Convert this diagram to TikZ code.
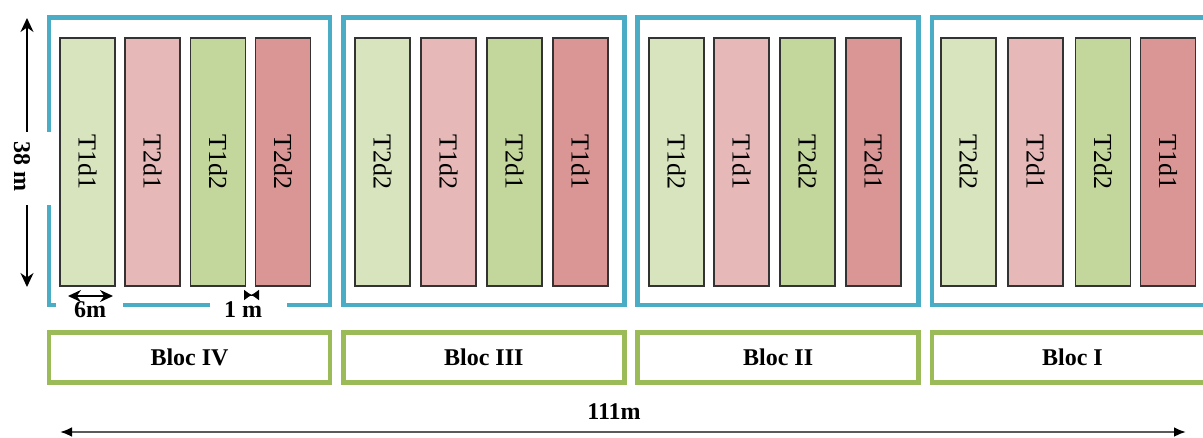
\documentclass[tikz,border=0pt]{standalone}
\usepackage{fontspec}
\setmainfont{Liberation Serif}
\usetikzlibrary{arrows.meta}
\definecolor{blu}{HTML}{4BACC6}
\definecolor{grn}{HTML}{9BBB59}
\definecolor{pa}{HTML}{D7E4BD}
\definecolor{pb}{HTML}{E6B9B8}
\definecolor{pc}{HTML}{C3D69B}
\definecolor{pd}{HTML}{D99694}
\definecolor{edge}{HTML}{333333}
\definecolor{axisgray}{HTML}{5A5A5A}
\begin{document}
\begin{tikzpicture}[x=1pt,y=-1pt,
  blockbox/.style={draw=blu, line width=4.5pt, minimum width=281pt, minimum height=287.5pt, inner sep=0pt},
  blocbar/.style={draw=grn, line width=4.5pt, minimum width=281pt, minimum height=50pt, inner sep=0pt,
    font=\fontsize{24}{24}\selectfont\bfseries},
  plotbox/.style={draw=edge, line width=1.2pt, rotate=-90, minimum width=248pt, minimum height=55pt,
    inner sep=0pt, font=\fontsize{26}{26}\selectfont},
  dimtext/.style={font=\fontsize{24}{24}\selectfont\bfseries, inner sep=0pt},
  dimarrow/.style={line width=1.8pt, {Stealth[length=14pt,width=13pt]}-{Stealth[length=14pt,width=13pt]}},
]
\useasboundingbox (0,0) rectangle (1203,437);
\clip (0,0) rectangle (1203,437);

% blocks (blue frames)
\node[blockbox] (b4) at (189.5,161.25) {};
\node[blockbox] (b3) at (483.8,161.25) {};
\node[blockbox] (b2) at (778.1,161.25) {};
\node[blockbox] (b1) at (1072.4,161.25) {};

% plots: Bloc IV
\node[plotbox, fill=pa] (p41) at (87.5,162) {T1d1};
\node[plotbox, fill=pb] (p42) at (152.5,162) {T2d1};
\node[plotbox, fill=pc] (p43) at (218,162) {T1d2};
\node[plotbox, fill=pd] (p44) at (283,162) {T2d2};
% Bloc III
\node[plotbox, fill=pa] (p31) at (382.5,162) {T2d2};
\node[plotbox, fill=pb] (p32) at (448.5,162) {T1d2};
\node[plotbox, fill=pc] (p33) at (514.5,162) {T2d1};
\node[plotbox, fill=pd] (p34) at (580.5,162) {T1d1};
% Bloc II
\node[plotbox, fill=pa] (p21) at (676.5,162) {T1d2};
\node[plotbox, fill=pb] (p22) at (741.5,162) {T1d1};
\node[plotbox, fill=pc] (p23) at (807.5,162) {T2d2};
\node[plotbox, fill=pd] (p24) at (873.5,162) {T2d1};
% Bloc I
\node[plotbox, fill=pa] (p11) at (968.5,162) {T2d2};
\node[plotbox, fill=pb] (p12) at (1035.5,162) {T2d1};
\node[plotbox, fill=pc] (p13) at (1103,162) {T2d2};
\node[plotbox, fill=pd] (p14) at (1168,162) {T1d1};

% bloc name bars
\node[blocbar] (n4) at (189.5,357.5) {Bloc IV};
\node[blocbar] (n3) at (483.8,357.5) {Bloc III};
\node[blocbar] (n2) at (778.1,357.5) {Bloc II};
\node[blocbar] (n1) at (1072.4,357.5) {Bloc I};

% 38 m dimension
\coordinate (h1) at (27,18);
\coordinate (h2) at (27,287);
\draw[dimarrow] (h1) -- (h2);
\fill[white] (0,132) rectangle (53,205);
\node[dimtext, rotate=-90] (l38) at (22,166) {38 m};

% 6 m and 1 m dimensions
\fill[white] (56,298) rectangle (123,313);
\fill[white] (210,298) rectangle (287,313);
\coordinate (w1) at (68,296);
\coordinate (w2) at (113,296);
\draw[line width=1.6pt, {Stealth[length=13pt,width=12pt]}-{Stealth[length=13pt,width=12pt]}] (w1) -- (w2);
\node[dimtext, anchor=base] (l6) at (90,317) {6m};
\coordinate (g1) at (244,295);
\coordinate (g2) at (259,295);
\draw[line width=1pt, {Latex[reversed,length=8pt,width=11pt]}-{Latex[reversed,length=8pt,width=11pt]}] (g1) -- (g2);
\node[dimtext, anchor=base] (l1) at (243,317) {1 m};

% 111 m dimension
\coordinate (t1) at (60,432);
\coordinate (t2) at (1186,432);
\draw[draw=axisgray, line width=2.6pt, {Latex[length=12pt,width=10pt,fill=black,color=black]}-{Latex[length=12pt,width=10pt,fill=black,color=black]}] (t1) -- (t2);
\node[dimtext, anchor=base] (l111) at (614,419) {111m};
\end{tikzpicture}
\end{document}
